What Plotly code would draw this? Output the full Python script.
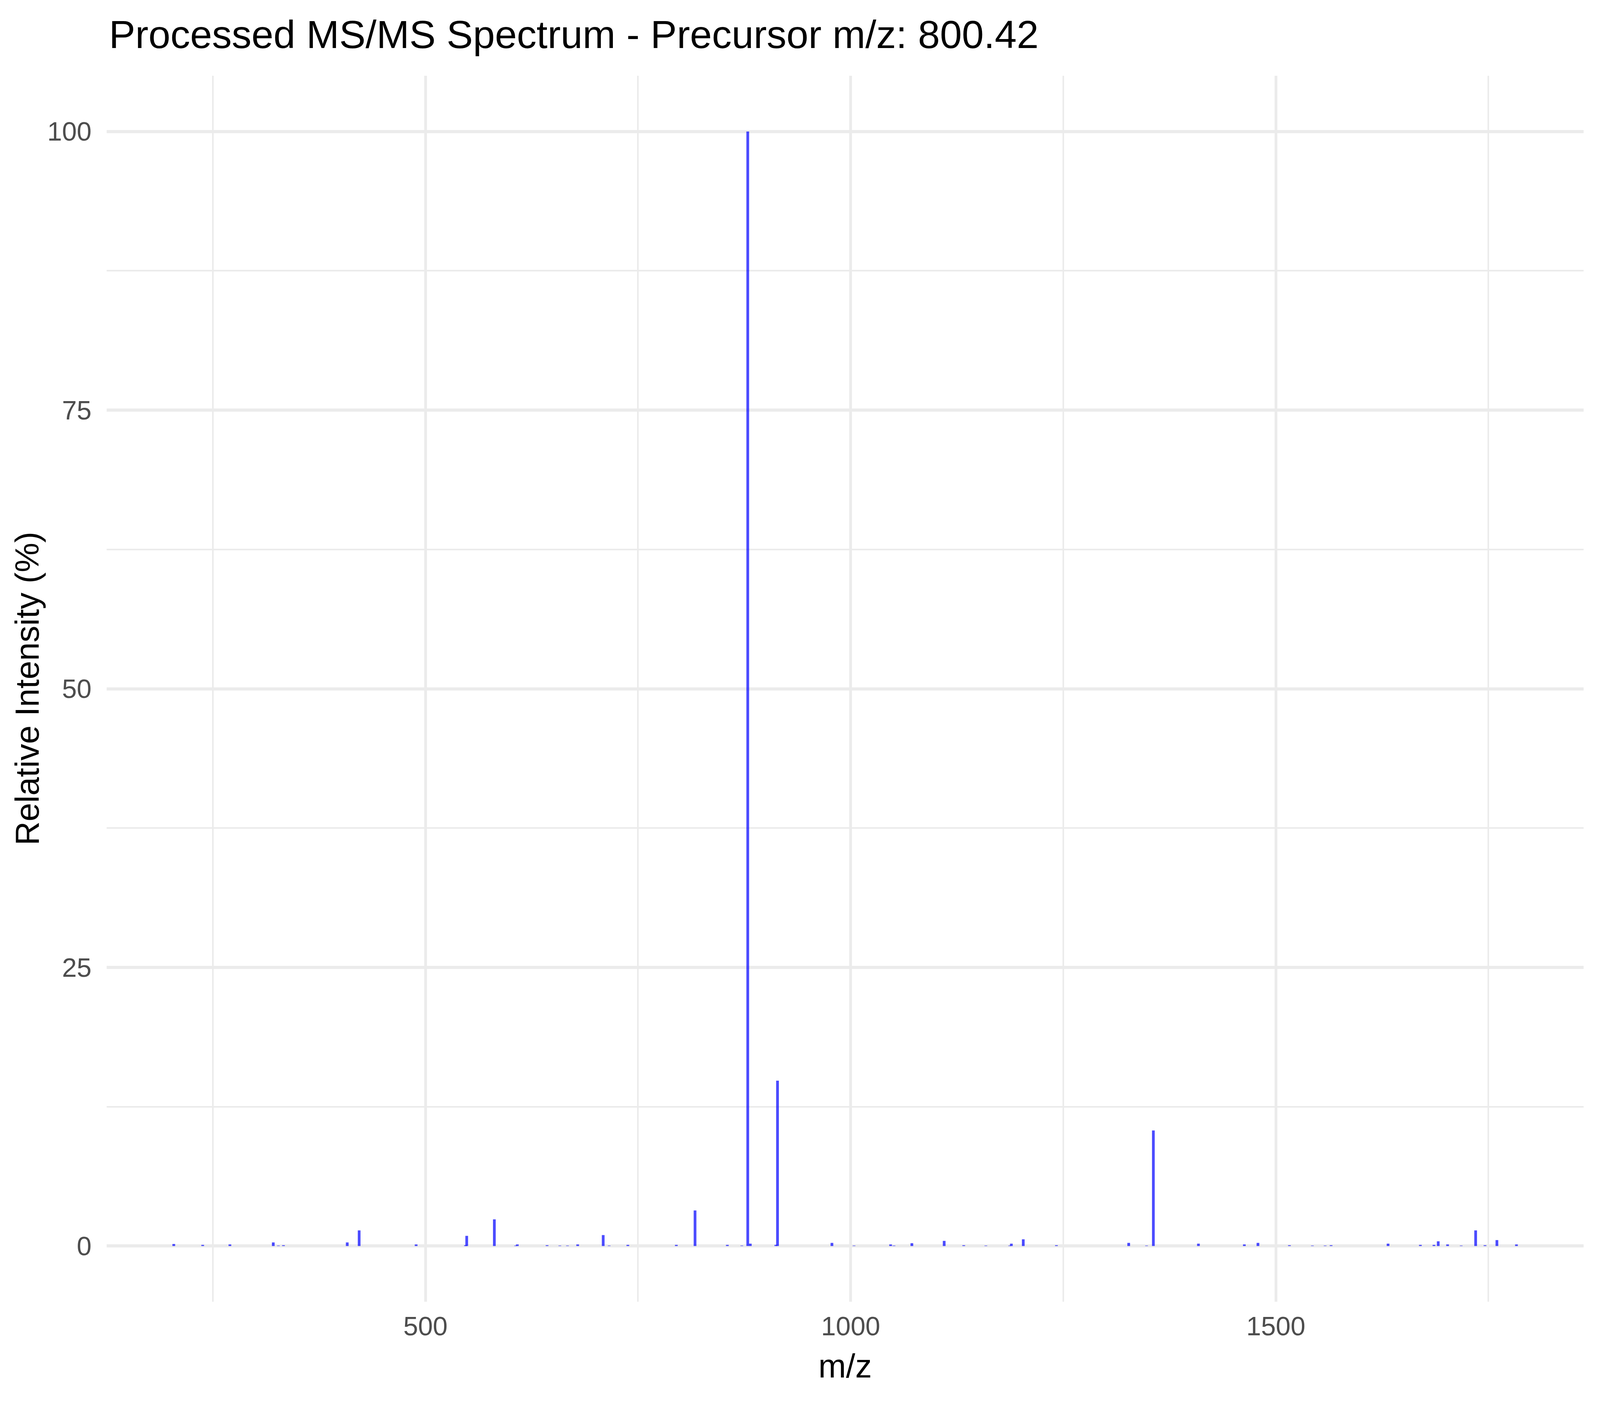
import plotly.graph_objects as go

# Peak list (m/z, relative intensity %)
mz = [204, 238, 270, 321, 327, 333, 408, 422, 489, 547, 548.5, 581, 606, 608,
      643, 658, 667, 679, 709, 716, 738, 795, 817, 855, 872, 879, 882, 912,
      914, 978, 1004, 1047, 1051, 1072, 1110, 1133, 1159, 1187, 1189, 1203,
      1242, 1327, 1348, 1356, 1409, 1463, 1479, 1516, 1543, 1558, 1565, 1632,
      1670, 1686, 1691, 1702, 1718, 1735, 1746, 1760, 1783]
intensity = [0.18, 0.10, 0.14, 0.32, 0.04, 0.07, 0.32, 1.40, 0.14, 0.07, 0.91,
             2.39, 0.04, 0.14, 0.07, 0.04, 0.04, 0.14, 0.98, 0.04, 0.10, 0.10,
             3.19, 0.10, 0.04, 100.0, 0.21, 0.10, 14.83, 0.28, 0.04, 0.14,
             0.04, 0.25, 0.46, 0.07, 0.04, 0.04, 0.21, 0.60, 0.07, 0.28, 0.04,
             10.37, 0.21, 0.14, 0.28, 0.07, 0.04, 0.04, 0.07, 0.21, 0.10, 0.10,
             0.42, 0.14, 0.04, 1.40, 0.07, 0.53, 0.14]

x_ticks = [500, 1000, 1500]
x_minor = [250, 750, 1250, 1750]
y_ticks = [0, 25, 50, 75, 100]
y_minor = [12.5, 37.5, 62.5, 87.5]

title_text = "Processed MS/MS Spectrum - Precursor m/z: 800.42"
x_title = "m/z"
y_title = "Relative Intensity (%)"

# Stick segments: (x, x, None) / (0, I, None)
seg_x, seg_y = [], []
for m, i in zip(mz, intensity):
    seg_x += [m, m, None]
    seg_y += [0, i, None]

FONT = "Liberation Sans, Arial, Helvetica, sans-serif"
# The browser viewport is 4096x3600; fill it (body has an 8px margin).
W, H = 4080, 3584
L, R, T, B = 265, 34, 186, 259
pw = W - L - R
ph = H - T - B

fig = go.Figure()
fig.add_trace(go.Scatter(
    x=seg_x, y=seg_y, mode="lines",
    line=dict(color="rgba(0,0,255,0.7)", width=7),
    connectgaps=False, showlegend=False, hoverinfo="skip"))

xmin, xmax = min(mz), max(mz)
xpad = 0.05 * (xmax - xmin)
ymax = max(intensity)

grid = "#EBEBEB"
fig.update_layout(
    width=W, height=H,
    margin=dict(l=L, r=R, t=T, b=B, pad=0),
    paper_bgcolor="white", plot_bgcolor="white",
    font=dict(family=FONT, color="black"),
    showlegend=False,
    xaxis=dict(
        range=[xmin - xpad, xmax + xpad],
        tickmode="array", tickvals=x_ticks, ticktext=[str(v) for v in x_ticks],
        showgrid=True, gridcolor=grid, gridwidth=7,
        zeroline=False, showline=False,
        ticks="outside", ticklen=3, tickcolor="rgba(0,0,0,0)",
        tickfont=dict(family=FONT, size=68, color="#4D4D4D"),
        minor=dict(tickmode="array", tickvals=x_minor, showgrid=True,
                   gridcolor=grid, gridwidth=3.5, ticks=""),
    ),
    yaxis=dict(
        range=[-0.05 * ymax, 1.05 * ymax],
        tickmode="array", tickvals=y_ticks, ticktext=[str(v) for v in y_ticks],
        showgrid=True, gridcolor=grid, gridwidth=8,
        zeroline=False, showline=False,
        ticks="outside", ticklen=24, tickcolor="rgba(0,0,0,0)",
        tickfont=dict(family=FONT, size=68, color="#4D4D4D"),
        minor=dict(tickmode="array", tickvals=y_minor, showgrid=True,
                   gridcolor=grid, gridwidth=4, ticks=""),
    ),
)

fig.add_annotation(
    text=title_text, xref="paper", yref="paper",
    x=(268.5 - L) / pw, y=(H - B - 80) / ph,
    xanchor="left", yanchor="middle", showarrow=False,
    font=dict(family=FONT, size=101, color="black"))
fig.add_annotation(
    text=x_title, xref="paper", yref="paper",
    x=0.5, y=(H - B - 3490) / ph,
    xanchor="center", yanchor="middle", showarrow=False,
    font=dict(family=FONT, size=85, color="black"))
fig.add_annotation(
    text=y_title, xref="paper", yref="paper",
    x=(61 - L) / pw, y=0.5, textangle=-90,
    xanchor="center", yanchor="middle", showarrow=False,
    font=dict(family=FONT, size=85, color="black"))

fig.write_html("out.html")
